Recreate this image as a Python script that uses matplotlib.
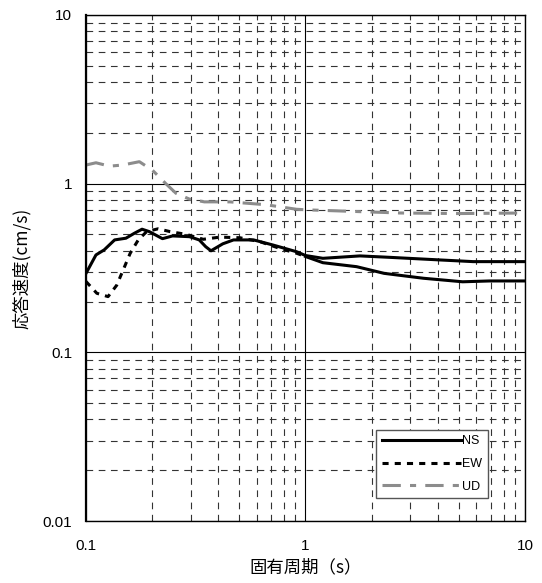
import matplotlib
matplotlib.use("Agg")
import matplotlib.pyplot as plt
from matplotlib.ticker import FixedLocator, NullFormatter, LogLocator
import numpy as np

plt.rcParams["font.family"] = ["Noto Sans CJK JP", "DejaVu Sans"]

# values (period s, velocity cm/s)
ns_period = [0.1, 0.111, 0.121, 0.135, 0.152, 0.166, 0.18, 0.194, 0.223, 0.248,
             0.296, 0.328, 0.351, 0.371, 0.42, 0.47, 0.58, 0.71, 0.91, 1.0,
             1.2, 1.77, 2.4, 4.1, 5.8, 10.0]
ns_vel = [0.294, 0.378, 0.405, 0.464, 0.475, 0.508, 0.537, 0.52, 0.472, 0.49,
          0.485, 0.464, 0.423, 0.40, 0.44, 0.464, 0.464, 0.433, 0.395, 0.375,
          0.361, 0.373, 0.366, 0.353, 0.345, 0.345]

ew_period = [0.1, 0.112, 0.126, 0.138, 0.148, 0.159, 0.173, 0.189, 0.213, 0.241,
             0.287, 0.342, 0.407, 0.502, 0.62, 0.76, 0.91, 1.0,
             1.2, 1.71, 2.28, 3.44, 5.2, 6.9, 10.0]
ew_vel = [0.263, 0.224, 0.214, 0.25, 0.31, 0.387, 0.464, 0.52, 0.54, 0.52,
          0.50, 0.468, 0.482, 0.478, 0.453, 0.414, 0.387, 0.37,
          0.34, 0.322, 0.294, 0.275, 0.262, 0.265, 0.265]

ud_period = [0.1, 0.111, 0.128, 0.147, 0.175, 0.201, 0.231, 0.257, 0.296, 0.346,
             0.452, 0.66, 0.91, 1.0, 2.7, 5.0, 10.0]
ud_vel = [1.29, 1.33, 1.27, 1.29, 1.35, 1.2, 1.0, 0.877, 0.81, 0.78,
          0.78, 0.75, 0.705, 0.70, 0.67, 0.665, 0.67]

x_ticks = [0.1, 1, 10]
x_ticklabels = ["0.1", "1", "10"]
y_ticks = [0.01, 0.1, 1, 10]
y_ticklabels = ["0.01", "0.1", "1", "10"]

NUM_FONT = ["Liberation Sans", "DejaVu Sans"]

fig = plt.figure(figsize=(5.42, 5.83), dpi=100)
ax = fig.add_axes([0.1587, 0.1063, 0.8099, 0.868])
ax.set_xscale("log")
ax.set_yscale("log")
ax.set_xlim(0.1, 10)
ax.set_ylim(0.01, 10)

# grid: solid at decades, dashed at minors
ax.xaxis.set_minor_locator(LogLocator(base=10, subs=np.arange(2, 10)))
ax.yaxis.set_minor_locator(LogLocator(base=10, subs=np.arange(2, 10)))
ax.grid(which="major", color="black", lw=0.8, ls="-")
ax.grid(which="minor", color="#333333", lw=0.8, ls=(0, (6, 5)))
ax.set_axisbelow(True)
ax.tick_params(which="both", length=0)
ax.xaxis.set_major_locator(FixedLocator(x_ticks))
ax.yaxis.set_major_locator(FixedLocator(y_ticks))
ax.xaxis.set_minor_formatter(NullFormatter())
ax.yaxis.set_minor_formatter(NullFormatter())
ax.set_xticklabels(x_ticklabels, fontsize=11, family=NUM_FONT)
ax.set_yticklabels(y_ticklabels, fontsize=11, family=NUM_FONT)
ax.tick_params(axis="x", pad=13)
ax.tick_params(axis="y", pad=10)
for s in ax.spines.values():
    s.set_linewidth(1.0)
ax.spines["left"].set_linewidth(1.6)

ax.plot(ns_period, ns_vel, color="black", lw=2.2, label="NS")
# EW: dotted in the short-period part, rendered solid beyond ~1 s in the reference
ew_p = np.array(ew_period)
ew_v = np.array(ew_vel)
cut = ew_p <= 1.0
ax.plot(ew_p[cut], ew_v[cut], color="black", lw=2.2, ls=(0, (2, 2)), label="EW")
ax.plot(ew_p[ew_p >= 1.0], ew_v[ew_p >= 1.0], color="black", lw=2.2)
ax.plot(ud_period, ud_vel, color="#8c8c8c", lw=2.2, ls=(0, (6, 3, 2, 3)), label="UD")

leg = ax.legend(loc="lower right", bbox_to_anchor=(0.915, 0.045),
                prop={"family": NUM_FONT, "size": 9},
                frameon=True, fancybox=False, edgecolor="#555555",
                handlelength=6.3, handletextpad=0.1, borderpad=0.45,
                labelspacing=0.85, framealpha=1, borderaxespad=0)
leg.get_frame().set_linewidth(1.0)

ax.set_xlabel("固有周期（s）", fontsize=12.5, labelpad=4)
ax.set_ylabel("応答速度(cm/s)", fontsize=12.5, labelpad=8)

fig.savefig("out.png", dpi=100)
